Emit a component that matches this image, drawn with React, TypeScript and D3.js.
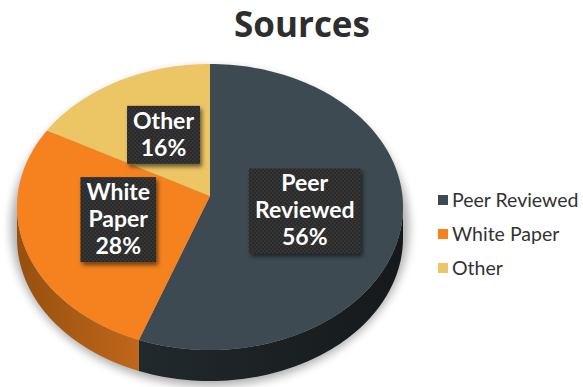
import React, { useEffect, useRef } from "react";
import * as d3 from "d3";

const title = "Sources";
const categories = ["Peer Reviewed", "White Paper", "Other"];
const values = [56, 28, 16];
const topColors = ["#3e4a51", "#f5821f", "#ecc565"];
const sideLeft = ["#22292c", "#96500f", "#a8843a"];
const sideRight = ["#15191b", "#c0671b", "#c9a24e"];

const W = 583;
const H = 387;

export default function App() {
  const ref = useRef<SVGSVGElement>(null);

  useEffect(() => {
    const svg = d3.select(ref.current);
    svg.selectAll("*").remove();

    const cx = 210, cy = 207, rx = 193, ry = 143, depth = 31;
    const apex = { x: 210, y: 196 };
    const pt = (a: number, dy = 0): [number, number] => [
      cx + rx * Math.sin(a),
      cy - ry * Math.cos(a) + dy,
    ];
    const sample = (a0: number, a1: number, dy = 0) => {
      const n = Math.max(2, Math.ceil(((a1 - a0) / (2 * Math.PI)) * 240));
      return d3.range(n + 1).map((i) => pt(a0 + ((a1 - a0) * i) / n, dy));
    };

    const pie = d3.pie<number>().sort(null).value((d) => d);
    const arcs = pie(values);
    const total = d3.sum(values);

    const defs = svg.append("defs");
    const blur = defs.append("filter").attr("id", "blur").attr("x", "-20%").attr("y", "-20%").attr("width", "140%").attr("height", "140%");
    blur.append("feGaussianBlur").attr("stdDeviation", 5);

    const ds = defs.append("filter").attr("id", "ds").attr("x", "-20%").attr("y", "-20%").attr("width", "150%").attr("height", "150%");
    ds.append("feDropShadow").attr("dx", 2).attr("dy", 3).attr("stdDeviation", 2).attr("flood-color", "#000").attr("flood-opacity", 0.55);

    const pat = defs.append("pattern").attr("id", "chk").attr("width", 4).attr("height", 4).attr("patternUnits", "userSpaceOnUse");
    pat.append("rect").attr("width", 4).attr("height", 4).attr("fill", "#2b2b2b");
    pat.append("rect").attr("width", 2).attr("height", 2).attr("fill", "#363636");
    pat.append("rect").attr("x", 2).attr("y", 2).attr("width", 2).attr("height", 2).attr("fill", "#363636");

    arcs.forEach((_, i) => {
      const g = defs.append("linearGradient").attr("id", `side${i}`).attr("x1", 0).attr("x2", 1).attr("y1", 0).attr("y2", 0);
      g.append("stop").attr("offset", "0%").attr("stop-color", sideLeft[i]);
      g.append("stop").attr("offset", "100%").attr("stop-color", sideRight[i]);
    });

    const line = d3.line();

    // shadow
    svg.append("ellipse")
      .attr("cx", cx).attr("cy", cy + 20).attr("rx", rx + 6).attr("ry", ry + 16)
      .attr("fill", "#000").attr("opacity", 0.32).attr("filter", "url(#blur)");

    // sides (front half only)
    const lo = Math.PI / 2, hi = (3 * Math.PI) / 2;
    arcs.forEach((a, i) => {
      const s = Math.max(a.startAngle, lo);
      const e = Math.min(a.endAngle, hi);
      if (e <= s) return;
      const top = sample(s, e);
      const bot = sample(s, e, depth).reverse();
      svg.append("path")
        .attr("d", line([...top, ...bot]) + "Z")
        .attr("fill", `url(#side${i})`);
    });

    // top faces
    arcs.forEach((a, i) => {
      const pts = [[apex.x, apex.y] as [number, number], ...sample(a.startAngle, a.endAngle)];
      svg.append("path")
        .attr("d", line(pts) + "Z")
        .attr("fill", topColors[i]);
    });

    // label boxes
    const fs = 23;
    const lh = 27;
    arcs.forEach((a, i) => {
      const mid = (a.startAngle + a.endAngle) / 2;
      const bx = apex.x + 0.5 * rx * Math.sin(mid);
      const by = apex.y + 1.5 - 0.5 * ry * Math.cos(mid);
      const lines = [...categories[i].split(" "), `${Math.round((values[i] / total) * 100)}%`];
      const g = svg.append("g");
      const rect = g.append("rect").attr("fill", "url(#chk)").attr("filter", "url(#ds)");
      const h = lines.length * lh + 4;
      const top = by - h / 2;
      let maxW = 0;
      lines.forEach((t, j) => {
        const tx = g.append("text")
          .attr("x", bx).attr("y", top + 15 + j * lh + 8)
          .attr("text-anchor", "middle")
          .attr("font-family", "Lato, sans-serif").attr("font-weight", 700)
          .attr("font-size", fs).attr("fill", "#fff")
          .text(t);
        maxW = Math.max(maxW, (tx.node() as SVGTextElement).getComputedTextLength());
      });
      const w = maxW + 12;
      rect.attr("x", bx - w / 2).attr("y", top).attr("width", w).attr("height", h);
    });

    // legend
    const ly = d3.scalePoint<string>().domain(categories).range([200, 268]);
    const lg = svg.append("g");
    categories.forEach((c, i) => {
      const y = ly(c)!;
      lg.append("rect").attr("x", 438).attr("y", y - 5).attr("width", 10).attr("height", 10).attr("fill", topColors[i]);
      lg.append("text").attr("x", 452).attr("y", y + 7)
        .attr("font-family", "Lato, sans-serif").attr("font-size", 19.5).attr("fill", "#333")
        .text(c);
    });

    // title
    svg.append("text")
      .attr("x", 302).attr("y", 37).attr("text-anchor", "middle")
      .attr("font-family", "'Open Sans', sans-serif").attr("font-weight", 700)
      .attr("font-size", 35).attr("fill", "#2e2e2e")
      .text(title);
  }, []);

  return (
    <svg
      ref={ref}
      width={W}
      height={H}
      style={{ position: "absolute", left: 0, top: 0, display: "block", background: "#fff" }}
    />
  );
}
